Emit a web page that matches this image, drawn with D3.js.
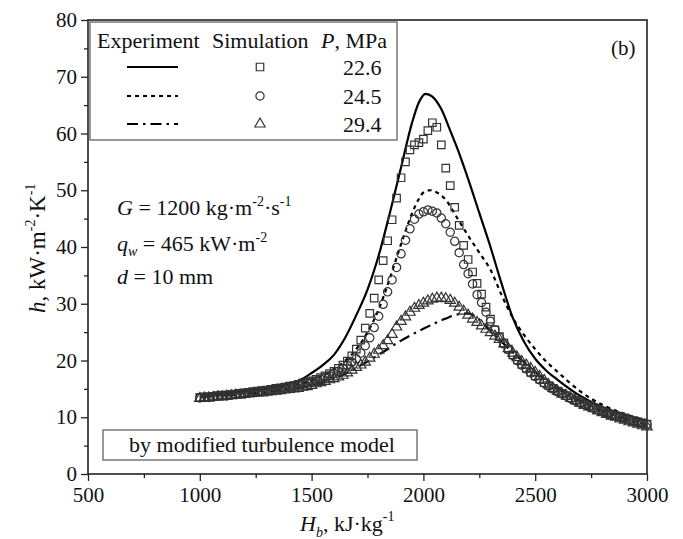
<!DOCTYPE html>
<html lang="en">
<head>
    <meta charset="UTF-8">
    <title>h vs Hb</title>
    <script src="https://d3js.org/d3.v7.min.js"></script>
    <style>
        body { margin: 0; background: #fff; }
        text { font-family: "Liberation Serif", "Times New Roman", serif; fill: #111; }
    </style>
</head>
<body>

<script>
    // ---- data ----
    let xTicks = [500, 1000, 1500, 2000, 2500, 3000]
    let yTicks = [0, 10, 20, 30, 40, 50, 60, 70, 80]
    let pressures = ["22.6", "24.5", "29.4"]

    // experiment (lines)
    let expH1 = [1000, 1100, 1200, 1300, 1400, 1450, 1500, 1550, 1600, 1650, 1700, 1750, 1800, 1850, 1900, 1950, 1980, 2010, 2040, 2080, 2120, 2160, 2200, 2250, 2300, 2350, 2400, 2450, 2500, 2550, 2600, 2700, 2800, 2900, 3000]
    let exp1 = [13.8, 14.2, 14.6, 15.1, 15.9, 16.6, 17.8, 19.2, 21.0, 24.0, 28.0, 32.5, 38.5, 46.0, 54.0, 62.0, 65.5, 67.0, 66.5, 64.3, 60.5, 56.5, 52.0, 46.0, 40.0, 33.5, 27.5, 23.3, 20.3, 18.2, 16.6, 13.8, 11.8, 10.4, 9.3]
    let expH2 = [1000, 1100, 1200, 1300, 1400, 1500, 1600, 1700, 1750, 1800, 1850, 1900, 1950, 1980, 2000, 2030, 2060, 2100, 2150, 2200, 2250, 2300, 2350, 2400, 2450, 2500, 2550, 2600, 2700, 2800, 2900, 3000]
    let exp2 = [14.0, 14.2, 14.6, 15.0, 15.6, 16.5, 18.5, 22.0, 25.0, 29.0, 34.5, 40.5, 46.0, 48.5, 49.6, 50.0, 49.6, 48.3, 45.2, 42.0, 39.0, 36.0, 31.5, 27.5, 24.5, 22.0, 19.8, 18.0, 14.6, 12.2, 10.6, 9.4]
    let expH3 = [1000, 1100, 1200, 1300, 1400, 1500, 1600, 1700, 1800, 1900, 2000, 2100, 2150, 2200, 2250, 2300, 2350, 2400, 2450, 2500, 2600, 2700, 2800, 2900, 3000]
    let exp3 = [13.5, 13.8, 14.1, 14.5, 15.0, 15.6, 16.8, 18.7, 21.0, 23.5, 25.6, 27.4, 28.1, 28.3, 27.2, 25.2, 23.3, 21.4, 19.7, 18.0, 15.2, 12.9, 11.1, 9.8, 8.7]

    // simulation (symbols), sampled every 20 kJ/kg from 1000 to 3000
    let simH = d3.range(1000, 3001, 20)
    let sim1 = [13.5, 13.6, 13.6, 13.7, 13.8, 13.9, 13.9, 14.0, 14.1, 14.2,
        14.3, 14.4, 14.5, 14.6, 14.7, 14.8, 14.9, 15.1, 15.2, 15.3,
        15.5, 15.6, 15.8, 16.0, 16.2, 16.4, 16.7, 17.0, 17.3, 17.7,
        18.1, 18.6, 19.2, 19.9, 20.8, 22.0, 23.6, 25.7, 28.3, 31.0,
        34.2, 37.6, 41.1, 44.8, 48.6, 52.2, 55.0, 57.1, 58.0, 58.4,
        59.0, 60.5, 61.9, 61.1, 58.0, 53.9, 50.8, 47.0, 43.8, 40.3,
        37.8, 35.6, 33.6, 31.7, 29.4, 27.3, 25.4, 24.2, 23.1, 22.0,
        21.0, 20.1, 19.3, 18.6, 17.9, 17.3, 16.7, 16.1, 15.6, 15.1,
        14.6, 14.2, 13.8, 13.4, 13.0, 12.6, 12.3, 12.0, 11.7, 11.4,
        11.1, 10.8, 10.5, 10.3, 10.1, 9.9, 9.6, 9.4, 9.2, 9.0,
        8.8]
    let sim2 = [13.4, 13.5, 13.5, 13.6, 13.7, 13.8, 13.8, 13.9, 14.0, 14.1,
        14.2, 14.3, 14.4, 14.5, 14.6, 14.7, 14.8, 14.9, 15.0, 15.1,
        15.3, 15.4, 15.6, 15.8, 16.0, 16.2, 16.4, 16.7, 17.0, 17.3,
        17.7, 18.1, 18.6, 19.1, 19.7, 20.3, 21.3, 22.6, 24.0, 25.8,
        27.8, 29.9, 32.1, 34.2, 36.4, 38.8, 41.2, 43.2, 44.9, 45.8,
        46.2, 46.5, 46.3, 46.0, 45.1, 44.1, 42.6, 41.0, 39.0, 36.9,
        35.3, 33.5, 31.6, 30.2, 28.5, 26.9, 25.4, 24.1, 22.9, 21.9,
        20.9, 20.0, 19.2, 18.5, 17.8, 17.2, 16.6, 16.0, 15.5, 15.0,
        14.5, 14.1, 13.7, 13.3, 12.9, 12.5, 12.2, 11.9, 11.6, 11.3,
        11.0, 10.7, 10.4, 10.2, 10.0, 9.8, 9.5, 9.3, 9.1, 8.9,
        8.7]
    let sim3 = [13.3, 13.4, 13.4, 13.5, 13.6, 13.6, 13.7, 13.8, 13.9, 13.9,
        14.0, 14.1, 14.2, 14.3, 14.3, 14.4, 14.5, 14.6, 14.7, 14.8,
        14.9, 15.0, 15.1, 15.3, 15.4, 15.6, 15.9, 16.1, 16.3, 16.6,
        16.8, 17.1, 17.4, 17.8, 18.3, 18.8, 19.2, 19.7, 20.4, 21.1,
        21.8, 22.6, 23.5, 24.6, 25.9, 26.9, 27.7, 28.5, 29.2, 29.7,
        30.1, 30.5, 30.8, 31.0, 31.0, 30.9, 30.6, 30.1, 29.4, 28.7,
        28.0, 27.3, 26.7, 26.1, 25.5, 24.9, 24.3, 23.7, 22.9, 22.1,
        21.3, 20.5, 19.8, 19.2, 18.6, 17.9, 17.2, 16.5, 15.7, 15.1,
        14.6, 14.1, 13.7, 13.3, 12.9, 12.5, 12.1, 11.8, 11.5, 11.1,
        10.8, 10.5, 10.2, 10.0, 9.7, 9.5, 9.2, 9.0, 8.8, 8.5,
        8.3]

    // ---- drawing ----
    let W = 683, H = 539
    let svg = d3.select("body").append("svg")
        .attr("width", W)
        .attr("height", H)

    let x = d3.scaleLinear().domain([500, 3000]).range([88, 647])
    let y = d3.scaleLinear().domain([0, 80]).range([474, 20])

    let dark = "#222"
    let symColor = "#333"

    // axes (major + minor ticks)
    let gx = svg.append("g").attr("transform", `translate(0,${y(0)})`)
    gx.call(d3.axisBottom(x).tickValues(xTicks).tickSize(7).tickPadding(6).tickFormat(d3.format("d")))
    gx.append("g").call(d3.axisBottom(x).tickValues(d3.range(750, 3000, 500)).tickSize(4).tickFormat(""))
    let gy = svg.append("g").attr("transform", `translate(${x(500)},0)`)
    gy.call(d3.axisLeft(y).tickValues(yTicks).tickSize(7).tickPadding(4))
    gy.append("g").call(d3.axisLeft(y).tickValues(d3.range(5, 80, 10)).tickSize(4).tickFormat(""))
    svg.selectAll(".domain").remove()
    svg.selectAll(".tick line").attr("stroke", dark).attr("stroke-width", 1.3)
    svg.selectAll(".tick text")
        .style("font-family", "'Liberation Serif', serif")
        .style("font-size", "21px")
        .attr("fill", "#111")

    // frame
    svg.append("rect")
        .attr("x", x(500)).attr("y", y(80))
        .attr("width", x(3000) - x(500)).attr("height", y(0) - y(80))
        .attr("fill", "none").attr("stroke", dark).attr("stroke-width", 1.6)

    // experiment lines
    let styles = [
        {dash: null, w: 2.2},
        {dash: "4,4", w: 2.2},
        {dash: "11,5,2.5,5", w: 2.2}
    ]
    let expSeries = [[expH1, exp1], [expH2, exp2], [expH3, exp3]]
    let line = d3.line()
        .x(function (d) { return x(d[0]) })
        .y(function (d) { return y(d[1]) })
        .curve(d3.curveMonotoneX)
    expSeries.forEach(function (s, i) {
        svg.append("path")
            .datum(s[0].map(function (h, k) { return [h, s[1][k]] }))
            .attr("d", line)
            .attr("fill", "none")
            .attr("stroke", "#000")
            .attr("stroke-width", styles[i].w)
            .attr("stroke-dasharray", styles[i].dash)
    })

    // simulation symbols
    let symTypes = [d3.symbolSquare, d3.symbolCircle, d3.symbolTriangle]
    let symSizes = [56, 54, 46]
    let simSeries = [sim1, sim2, sim3]
    simSeries.forEach(function (vals, i) {
        let sym = d3.symbol().type(symTypes[i]).size(symSizes[i])
        svg.append("g").selectAll("path")
            .data(vals.map(function (v, k) { return [simH[k], v] }))
            .enter()
            .append("path")
            .attr("d", sym)
            .attr("transform", function (d) { return `translate(${x(d[0])},${y(d[1])})` })
            .attr("fill", "none")
            .attr("stroke", symColor)
            .attr("stroke-width", 1.2)
    })

    // legend box
    let lg = svg.append("g")
    let fs = "22px"
    lg.append("rect")
        .attr("x", 90).attr("y", 22).attr("width", 307).attr("height", 118)
        .attr("fill", "#fff").attr("stroke", "#777").attr("stroke-width", 1.5)
    lg.append("text").attr("x", 97).attr("y", 48).style("font-size", fs).text("Experiment")
    lg.append("text").attr("x", 212).attr("y", 48).style("font-size", fs).text("Simulation")
    let pt = lg.append("text").attr("x", 321).attr("y", 48).style("font-size", fs)
    pt.append("tspan").style("font-style", "italic").text("P")
    pt.append("tspan").text(", MPa")
    let rowY = [67, 96, 124]
    pressures.forEach(function (p, i) {
        lg.append("line")
            .attr("x1", 127).attr("x2", 178).attr("y1", rowY[i]).attr("y2", rowY[i])
            .attr("stroke", "#000").attr("stroke-width", styles[i].w)
            .attr("stroke-dasharray", styles[i].dash)
        lg.append("path")
            .attr("d", d3.symbol().type(symTypes[i]).size(symSizes[i]))
            .attr("transform", `translate(260,${rowY[i]})`)
            .attr("fill", "none").attr("stroke", symColor).attr("stroke-width", 1.2)
        lg.append("text").attr("x", 343).attr("y", rowY[i] + 8).style("font-size", fs).text(p)
    })

    // panel label
    svg.append("text").attr("x", 611).attr("y", 55).style("font-size", "21px").text("(b)")

    // conditions
    let cs = "22px", ss = "14px"
    let t1 = svg.append("text").attr("x", 117).attr("y", 215).style("font-size", cs)
    t1.append("tspan").style("font-style", "italic").text("G")
    t1.append("tspan").text(" = 1200 kg·m")
    t1.append("tspan").attr("dy", -9).style("font-size", ss).text("-2")
    t1.append("tspan").attr("dy", 9).text("·s")
    t1.append("tspan").attr("dy", -9).style("font-size", ss).text("-1")

    let t2 = svg.append("text").attr("x", 117).attr("y", 251).style("font-size", cs)
    t2.append("tspan").style("font-style", "italic").text("q")
    t2.append("tspan").attr("dy", 5).style("font-size", ss).style("font-style", "italic").text("w")
    t2.append("tspan").attr("dy", -5).text(" = 465 kW·m")
    t2.append("tspan").attr("dy", -9).style("font-size", ss).text("-2")

    let t3 = svg.append("text").attr("x", 117).attr("y", 284).style("font-size", cs)
    t3.append("tspan").style("font-style", "italic").text("d")
    t3.append("tspan").text(" = 10 mm")

    // model note box
    svg.append("rect")
        .attr("x", 103).attr("y", 430).attr("width", 314).attr("height", 30)
        .attr("fill", "#fff").attr("stroke", "#777").attr("stroke-width", 1.5)
    svg.append("text").attr("x", 262).attr("y", 452).attr("text-anchor", "middle")
        .style("font-size", "22px").text("by modified turbulence model")

    // axis titles
    let xt = svg.append("text").attr("x", 300).attr("y", 531).style("font-size", "22px")
    xt.append("tspan").style("font-style", "italic").text("H")
    xt.append("tspan").attr("dy", 6).style("font-size", "14px").style("font-style", "italic").text("b")
    xt.append("tspan").attr("dy", -6).text(", kJ·kg")
    xt.append("tspan").attr("dy", -10).style("font-size", "14px").text("-1")

    let yt = svg.append("text")
        .attr("transform", "translate(45,313) rotate(-90)")
        .style("font-size", "23px")
    yt.append("tspan").style("font-style", "italic").text("h")
    yt.append("tspan").text(", kW·m")
    yt.append("tspan").attr("dy", -10).style("font-size", "14px").text("-2")
    yt.append("tspan").attr("dy", 10).text("·K")
    yt.append("tspan").attr("dy", -10).style("font-size", "14px").text("-1")
</script>


</body>
</html>
